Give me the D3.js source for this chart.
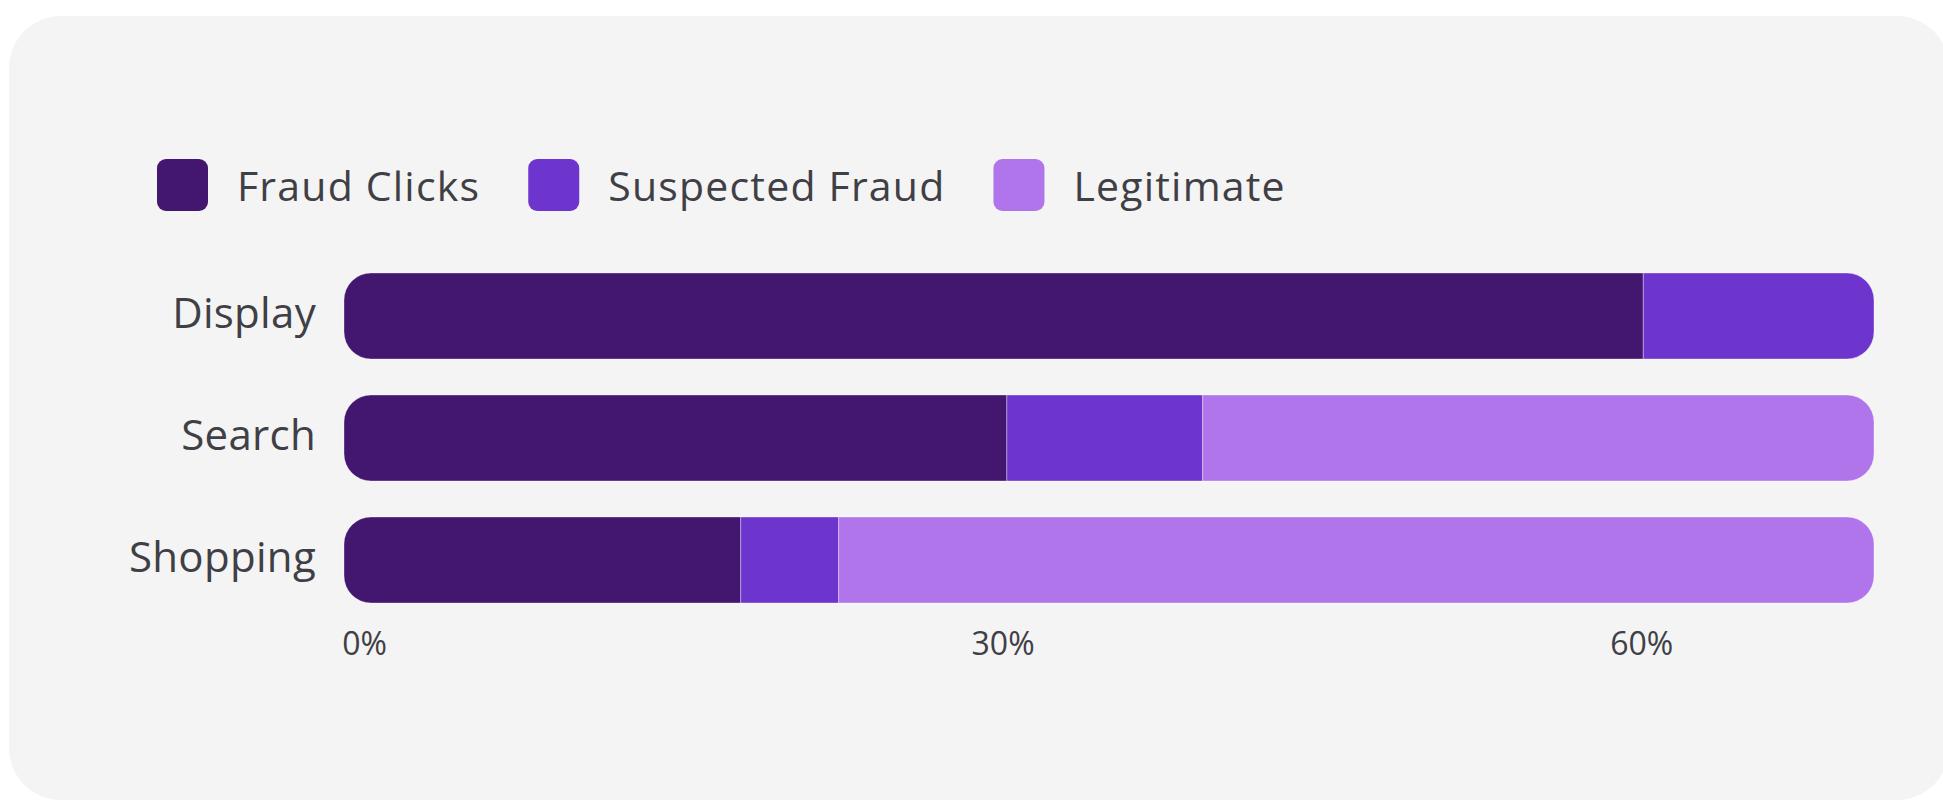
<!DOCTYPE html>
<html>
<head>
<meta charset="utf-8">
<script src="https://cdn.jsdelivr.net/npm/d3@7.9.0/dist/d3.min.js"></script>
<style>
  html, body { margin: 0; padding: 0; background: #ffffff; }
  svg { display: block; font-family: "Open Sans", "DejaVu Sans", sans-serif; }
</style>
</head>
<body>
<svg id="chart" width="1943" height="801"></svg>
<script>
// ---------------------- Data ----------------------
const channels = ['Display', 'Search', 'Shopping'];
const seriesNames = ['Fraud Clicks', 'Suspected Fraud', 'Legitimate'];
const fraudClicks = [60.1, 30.2, 17.7];
const suspectedFraud = [9.9, 9.2, 4.6];
const legitimate = [0, 30.6, 47.7];
const xTicks = [0, 30, 60];

const colors = d3.scaleOrdinal()
  .domain(seriesNames)
  .range(['#43166f', '#6e35ce', '#b075ea']);

const rows = channels.map((c, i) => ({
  channel: c,
  'Fraud Clicks': fraudClicks[i],
  'Suspected Fraud': suspectedFraud[i],
  'Legitimate': legitimate[i]
}));

// ---------------------- Layout ----------------------
const textColor = '#403f45';
const cap = 20;      // rounded end caps stick out past 0 and the total
const radius = 27;

const svg = d3.select('#chart');

// card background
svg.append('rect')
  .attr('x', 9)
  .attr('y', 16)
  .attr('width', 1940)
  .attr('height', 784)
  .attr('rx', 52)
  .attr('fill', '#f4f4f4');

// ---------------------- Legend ----------------------
const legend = svg.append('g').attr('class', 'legend');
let lx = 157;
seriesNames.forEach(name => {
  const g = legend.append('g').attr('transform', `translate(${lx},159)`);
  g.append('rect')
    .attr('width', 51)
    .attr('height', 52)
    .attr('rx', 9)
    .attr('fill', colors(name));
  const t = g.append('text')
    .attr('x', 80)
    .attr('y', 42)
    .attr('fill', textColor)
    .style('font-size', '41px')
    .style('letter-spacing', '1.2px')
    .text(name);
  lx += 80 + t.node().getComputedTextLength() + 48;
});

// ---------------------- Scales ----------------------
const stacked = d3.stack().keys(seriesNames)(rows);
const maxTotal = d3.max(rows, d => d3.sum(seriesNames, k => d[k]));

const x = d3.scaleLinear()
  .domain([0, maxTotal])
  .range([364, 1854]);

const y = d3.scaleBand()
  .domain(channels)
  .range([273, 603])
  .paddingInner(0.295)
  .paddingOuter(0);

// ---------------------- Bars ----------------------
function segPath(x0, x1, y0, h, roundLeft, roundRight) {
  const r = Math.min(radius, h / 2);
  const p = d3.path();
  p.moveTo(x0 + (roundLeft ? r : 0), y0);
  if (roundRight) {
    p.lineTo(x1 - r, y0);
    p.arcTo(x1, y0, x1, y0 + r, r);
    p.lineTo(x1, y0 + h - r);
    p.arcTo(x1, y0 + h, x1 - r, y0 + h, r);
  } else {
    p.lineTo(x1, y0);
    p.lineTo(x1, y0 + h);
  }
  if (roundLeft) {
    p.lineTo(x0 + r, y0 + h);
    p.arcTo(x0, y0 + h, x0, y0 + h - r, r);
    p.lineTo(x0, y0 + r);
    p.arcTo(x0, y0, x0 + r, y0, r);
  } else {
    p.lineTo(x0, y0 + h);
  }
  p.closePath();
  return p.toString();
}

const segments = [];
rows.forEach((row, i) => {
  const live = stacked.filter(s => s[i][1] - s[i][0] > 0);
  live.forEach((s, j) => {
    segments.push({
      channel: row.channel,
      key: s.key,
      start: s[i][0],
      end: s[i][1],
      first: j === 0,
      last: j === live.length - 1
    });
  });
});

svg.append('g')
  .attr('class', 'bars')
  .selectAll('path')
  .data(segments)
  .join('path')
  .attr('d', d => segPath(
    x(d.start) - (d.first ? cap : 0),
    x(d.end) + (d.last ? cap : 0),
    y(d.channel),
    y.bandwidth(),
    d.first,
    d.last))
  .attr('fill', d => colors(d.key))
  .attr('stroke', 'rgba(255,255,255,0.35)')
  .attr('stroke-width', 1);

// ---------------------- Axes ----------------------
const yAxis = svg.append('g')
  .attr('class', 'y-axis')
  .attr('transform', 'translate(344,0)')
  .call(d3.axisLeft(y).tickSize(0).tickPadding(28));
yAxis.select('.domain').remove();
yAxis.selectAll('text')
  .attr('fill', textColor)
  .attr('dy', null)
  .attr('y', 12)
  .style('font-size', '42px')
  .style('letter-spacing', '0.3px')
  .style('font-family', '"Open Sans", sans-serif');

const xAxis = svg.append('g')
  .attr('class', 'x-axis')
  .attr('transform', 'translate(0,603)')
  .call(d3.axisBottom(x).tickValues(xTicks).tickFormat(d => d + '%').tickSize(0).tickPadding(0));
xAxis.select('.domain').remove();
xAxis.selectAll('text')
  .attr('fill', textColor)
  .attr('dy', null)
  .attr('y', 52)
  .style('font-size', '32px')
  .style('font-family', '"Open Sans", sans-serif');
</script>
</body>
</html>
